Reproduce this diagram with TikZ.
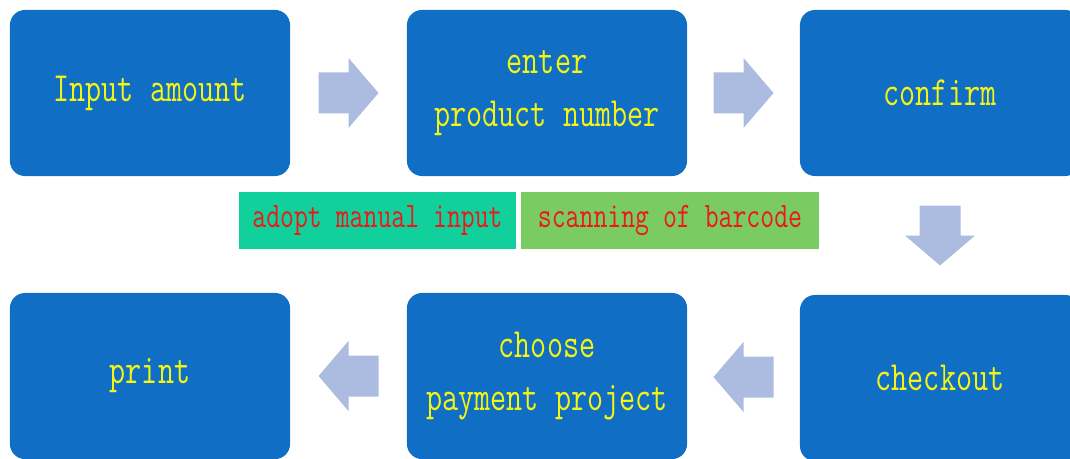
\documentclass[tikz,border=0pt]{standalone}
\usepackage{fontspec}
\setmonofont[FakeStretch=0.75]{Latin Modern Mono}
\usepackage{xcolor}
\usepackage{tikz}
\usetikzlibrary{calc}
\definecolor{stepblue}{RGB}{16,111,196}
\definecolor{arrowgrey}{RGB}{171,188,224}
\definecolor{labelteal}{RGB}{18,208,156}
\definecolor{labelgreen}{RGB}{123,203,99}
\definecolor{steptext}{RGB}{245,245,20}
\definecolor{labeltext}{RGB}{235,25,25}
\tikzset{
	stepbox/.style={fill=stepblue, rounded corners=0.375cm, minimum width=7cm, minimum height=4.15cm, align=center, text=steptext, font=\ttfamily\fontsize{29.6}{37.7}\selectfont},
	labelbox/.style={minimum height=1.425cm, text=labeltext, font=\ttfamily\fontsize{25.6}{28}\selectfont},
	flowarrow/.pic={\fill[arrowgrey] (-30,-20.5) -- (0,-20.5) -- (0,-35) -- (30,0) -- (0,35) -- (0,20.5) -- (-30,20.5) -- cycle;}
}

\begin{document}
\begin{tikzpicture}[x=0.025cm, y=-0.025cm]

\useasboundingbox (0,0) rectangle (1070,459);
\clip (0,0) rectangle (1070,459);

\node[stepbox] (amount) at (150,93) {Input amount};
\node[stepbox] (product) at (547,93) {enter\\product number};
\node[stepbox] (confirm) at (940,93) {confirm};
\node[stepbox] (checkout) at (940,378) {checkout};
\node[stepbox] (payment) at (547,376) {choose\\payment project};
\node[stepbox] (print) at (150,376) {print};

\node[labelbox, fill=labelteal, minimum width=6.925cm] (manual) at (377.5,220.5) {adopt manual input};
\node[labelbox, fill=labelgreen, minimum width=7.45cm] (barcode) at (670,220.5) {scanning of barcode};

\pic at ($(amount.east)!0.5!(product.west)$) {flowarrow};
\pic at ($(product.east)!0.5!(confirm.west)$) {flowarrow};
\pic[rotate=-90] at ($(confirm.south)!0.5!(checkout.north)$) {flowarrow};
\pic[rotate=180] at ($(checkout.west)!0.5!(payment.east)$) {flowarrow};
\pic[rotate=180] at ($(payment.west)!0.5!(print.east)$) {flowarrow};

\end{tikzpicture}
\end{document}
